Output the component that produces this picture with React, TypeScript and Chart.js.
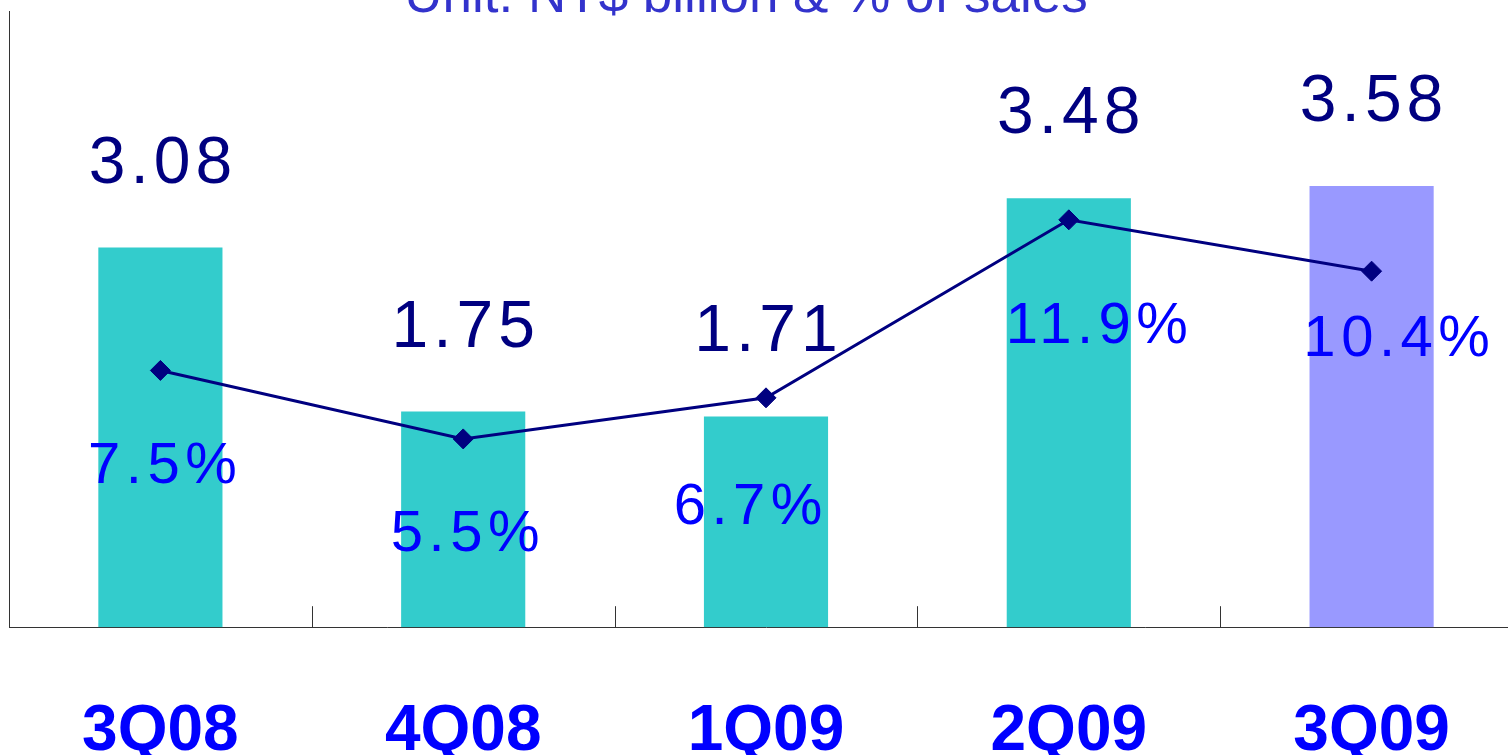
import React, { useEffect, useRef } from "react";
import { Chart, registerables } from "chart.js";

Chart.register(...registerables);

const categories = ["3Q08", "4Q08", "1Q09", "2Q09", "3Q09"];
const profitValues = [3.08, 1.75, 1.71, 3.48, 3.58];
const percentOfSales = [7.5, 5.5, 6.7, 11.9, 10.4];
const titleText = "Unit: NT$ billion & % of sales";

// label placement (style only)
const pctNudgeX = [2, 2, -18, 28, 25];
const pctNudgeY = [113, 112, 126, 123, 85];

const CANVAS_W = 1530;
const CANVAS_H = 872;

function drawSpaced(ctx: any, text: string, x: number, y: number, spacing: number) {
  ctx.letterSpacing = spacing + "px";
  // compensate for trailing spacing so the text stays centred
  ctx.fillText(text, x + spacing / 2, y);
  ctx.letterSpacing = "0px";
}

const labelPlugin = {
  id: "customLabels",
  afterDatasetsDraw(chart: any) {
    const ctx = chart.ctx;
    const { chartArea } = chart;
    const xScale = chart.scales.x;
    ctx.save();
    // left value axis line
    ctx.strokeStyle = "#333333";
    ctx.lineWidth = 1;
    const lx = Math.round(chartArea.left) + 0.5;
    ctx.beginPath();
    ctx.moveTo(lx, chartArea.top);
    ctx.lineTo(lx, chartArea.bottom);
    ctx.stroke();
    // category divider ticks (upward from axis)
    for (let i = 1; i < categories.length; i++) {
      const x = Math.round((xScale.getPixelForValue(i - 1) + xScale.getPixelForValue(i)) / 2) + 0.5;
      ctx.beginPath();
      ctx.moveTo(x, chartArea.bottom - 21);
      ctx.lineTo(x, chartArea.bottom);
      ctx.stroke();
    }
    // bar value labels
    const barMeta = chart.getDatasetMeta(1);
    ctx.font = "66px 'Liberation Sans', Arial, sans-serif";
    ctx.fillStyle = "#000080";
    ctx.textAlign = "center";
    ctx.textBaseline = "alphabetic";
    barMeta.data.forEach((el: any, i: number) => {
      drawSpaced(ctx, profitValues[i].toFixed(2), el.x, el.y - 65, 5);
    });
    // percent labels
    const lineMeta = chart.getDatasetMeta(0);
    ctx.font = "58px 'Liberation Sans', Arial, sans-serif";
    ctx.fillStyle = "#0000FF";
    lineMeta.data.forEach((el: any, i: number) => {
      drawSpaced(ctx, percentOfSales[i].toFixed(1) + "%", el.x + pctNudgeX[i], el.y + pctNudgeY[i], 5.5);
    });
    // title (clipped at top in the reference)
    ctx.font = "53px 'Liberation Sans', Arial, sans-serif";
    ctx.fillStyle = "#3333CC";
    ctx.fillText(titleText, 746, 12);
    ctx.restore();
  },
};

export default function App() {
  const canvasRef = useRef<HTMLCanvasElement | null>(null);

  useEffect(() => {
    if (!canvasRef.current) return;
    const chart = new Chart(canvasRef.current, {
      type: "bar",
      data: {
        labels: categories,
        datasets: [
          {
            type: "line",
            label: "% of sales",
            data: percentOfSales,
            yAxisID: "y2",
            borderColor: "#000080",
            backgroundColor: "#000080",
            borderWidth: 3,
            pointStyle: "rectRot",
            pointRadius: 10,
            pointBorderWidth: 1,
            pointBackgroundColor: "#000080",
            pointBorderColor: "#000080",
            tension: 0,
            order: 0,
          } as any,
          {
            type: "bar",
            label: "NT$ billion",
            data: profitValues,
            yAxisID: "y",
            backgroundColor: ["#33CCCC", "#33CCCC", "#33CCCC", "#33CCCC", "#9999FF"],
            borderWidth: 0,
            barPercentage: 0.41,
            categoryPercentage: 1,
            order: 1,
          },
        ],
      },
      options: {
        responsive: false,
        animation: false,
        devicePixelRatio: 1,
        layout: {
          autoPadding: false,
          padding: { left: 9, right: CANVAS_W - 1523, top: 11, bottom: 34 },
        },
        plugins: {
          legend: { display: false },
          title: { display: false },
          tooltip: { enabled: false },
        },
        scales: {
          x: {
            display: true,
            grid: { display: false, drawTicks: false },
            border: { display: true, color: "#333333", width: 1 },
            ticks: {
              display: true,
              autoSkip: false,
              maxRotation: 0,
              minRotation: 0,
              padding: 67,
              color: "#0000FF",
              font: { family: "'Liberation Sans', Arial, sans-serif", size: 64, weight: "bold" },
            },
          },
          y: {
            display: false,
            min: 0,
            max: 5,
          },
          y2: {
            display: false,
            min: 0,
            max: 18,
            position: "right",
          },
        },
      },
      plugins: [labelPlugin],
    });
    return () => chart.destroy();
  }, []);

  return (
    <div
      style={{
        position: "fixed",
        left: 0,
        top: 0,
        width: 1508,
        height: 755,
        overflow: "hidden",
        background: "#ffffff",
      }}
    >
      <canvas
        ref={canvasRef}
        width={CANVAS_W}
        height={CANVAS_H}
        style={{ width: CANVAS_W, height: CANVAS_H, display: "block" }}
      />
    </div>
  );
}
